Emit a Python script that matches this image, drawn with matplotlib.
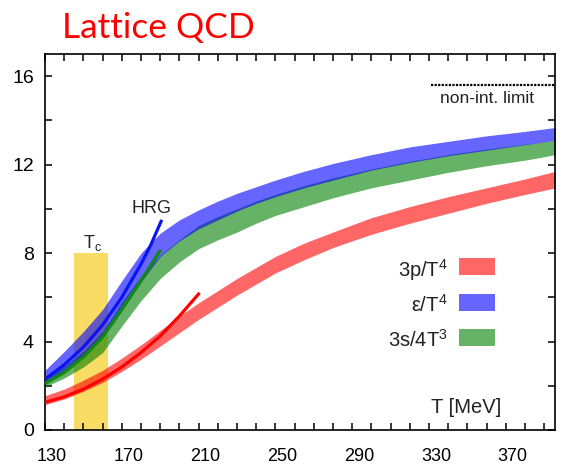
import matplotlib
matplotlib.use("Agg")
import matplotlib.pyplot as plt
from matplotlib.patches import Rectangle
from matplotlib.transforms import ScaledTranslation
from matplotlib.ticker import MultipleLocator, FixedLocator

plt.rcParams['font.family'] = ['Liberation Sans', 'DejaVu Sans']
plt.rcParams['mathtext.fontset'] = 'custom'
plt.rcParams['mathtext.rm'] = 'Liberation Sans'
plt.rcParams['mathtext.it'] = 'Liberation Sans'
plt.rcParams['mathtext.default'] = 'regular'

# ---------------- data ----------------
T_band = [130, 140, 150, 160, 170, 180, 190, 200, 210, 220, 230, 240, 250,
          265, 280, 300, 320, 340, 360, 380, 396]

p_lo = [1.15, 1.40, 1.75, 2.15, 2.65, 3.20, 3.80, 4.40, 5.00, 5.55, 6.10, 6.60, 7.10,
        7.70, 8.25, 8.85, 9.35, 9.80, 10.25, 10.65, 10.95]
p_hi = [1.55, 1.85, 2.25, 2.70, 3.25, 3.85, 4.50, 5.15, 5.75, 6.30, 6.85, 7.35, 7.85,
        8.45, 8.95, 9.60, 10.10, 10.55, 10.95, 11.35, 11.70]

e_lo = [2.15, 2.70, 3.35, 4.20, 5.40, 6.70, 7.85, 8.55, 9.10, 9.50, 9.90, 10.25, 10.55,
        10.95, 11.30, 11.75, 12.10, 12.40, 12.65, 12.90, 13.10]
e_hi = [2.70, 3.55, 4.45, 5.45, 6.75, 8.00, 8.90, 9.50, 9.95, 10.35, 10.70, 11.00, 11.30,
        11.70, 12.05, 12.45, 12.80, 13.05, 13.30, 13.50, 13.68]

s_lo = [1.95, 2.35, 2.85, 3.50, 4.70, 5.85, 6.85, 7.60, 8.20, 8.60, 8.95, 9.35, 9.70,
        10.10, 10.50, 10.95, 11.30, 11.65, 11.95, 12.20, 12.45]
s_hi = [2.40, 2.90, 3.55, 4.45, 5.80, 6.95, 7.90, 8.60, 9.25, 9.65, 10.00, 10.35, 10.65,
        11.05, 11.40, 11.80, 12.15, 12.45, 12.70, 12.92, 13.10]

hrg_T_e = [130, 140, 150, 160, 170, 180, 185, 190.8]
hrg_e = [2.30, 2.95, 3.75, 4.75, 6.00, 7.50, 8.35, 9.50]
hrg_T_s = [130, 140, 150, 160, 170, 180, 190.2]
hrg_s = [2.10, 2.60, 3.30, 4.20, 5.45, 6.75, 8.15]
hrg_T_p = [130, 140, 150, 160, 170, 180, 190, 200, 210.5]
hrg_p = [1.25, 1.50, 1.85, 2.30, 2.85, 3.50, 4.25, 5.15, 6.20]

Tc_range = [145, 163]
Tc_height = 8.0
sb_limit = 15.6
sb_T_start = 331

x_ticks = [130, 170, 210, 250, 290, 330, 370]
y_ticks = [0, 4, 8, 12, 16]
legend_labels = ['3p/T$^{4}$', 'ε/T$^{4}$', '3s/4T$^{3}$']

# ---------------- figure ----------------
fig = plt.figure(figsize=(5.64, 4.66), dpi=100)
ax = fig.add_axes([45/564, 1-430/466, 510/564, 376/466])

red = '#ff0000'
blue = '#0000ff'
green = '#008000'
alpha = 0.6

ax.fill_between(Tc_range, 0, Tc_height, color='#f8dc64', lw=0, zorder=1)
ax.fill_between(T_band, p_lo, p_hi, color=red, alpha=alpha, lw=0, zorder=2)
ax.fill_between(T_band, s_lo, s_hi, color=green, alpha=alpha, lw=0, zorder=2)
ax.fill_between(T_band, e_lo, e_hi, color=blue, alpha=alpha, lw=0, zorder=2)

ax.plot(hrg_T_p, hrg_p, color='#ff0000', lw=2.3, zorder=3, solid_capstyle='butt')
ax.plot(hrg_T_s, hrg_s, color='#108a10', lw=2.3, zorder=3, solid_capstyle='butt')
ax.plot(hrg_T_e, hrg_e, color='#0a14f0', lw=2.3, zorder=3, solid_capstyle='butt')

ax.plot([sb_T_start, 400], [sb_limit, sb_limit], color='black', lw=1.6,
        linestyle=(0, (1, 0.6)), zorder=3)

ax.set_xlim(130, 395.6)
ax.set_ylim(0, 17)

ax.xaxis.set_major_locator(FixedLocator(x_ticks))
ax.xaxis.set_minor_locator(MultipleLocator(10))
ax.yaxis.set_major_locator(FixedLocator(y_ticks))
ax.yaxis.set_minor_locator(MultipleLocator(2))
ax.set_xticklabels([str(t) for t in x_ticks])
ax.set_yticklabels([str(t) for t in y_ticks])

ax.tick_params(which='both', direction='in', top=True, right=True,
               length=5, width=1.1, color='black')
ax.tick_params(axis='x', which='major', labelsize=13, pad=13)
ax.tick_params(axis='y', which='major', labelsize=14, pad=8)
for sp in ax.spines.values():
    sp.set_linewidth(1.2)

off = ScaledTranslation(7/100, 0, fig.dpi_scale_trans)
for lab in ax.get_xticklabels():
    lab.set_transform(lab.get_transform() + off)

# texts
ax.text(0.866, 0.882, 'non-int. limit', transform=ax.transAxes,
        ha='center', va='center', fontsize=12.5, color='#222222')
ax.text(0.895, 0.061, 'T [MeV]', transform=ax.transAxes,
        ha='right', va='center', fontsize=14.5, color='#222222')
ax.text(185.6, 10.0, 'HRG', ha='center', va='center', fontsize=13, color='#222222')
ax.text(155, 8.45, 'T$_{c}$', ha='center', va='center', fontsize=13, color='#222222')

# legend (manual)
leg_cols = [red, blue, green]
leg_y = [0.434, 0.340, 0.247]
for lab, col, yc in zip(legend_labels, leg_cols, leg_y):
    ax.add_patch(Rectangle((0.812, yc - 0.0225), 0.070, 0.045, transform=ax.transAxes,
                           facecolor=col, alpha=alpha, lw=0, zorder=4))
    ax.text(0.790, yc - 0.026, lab, transform=ax.transAxes, ha='right',
            va='baseline', fontsize=14.5, color='#222222')

fig.text(62/564, 1-38/466, 'Lattice QCD', color='#ff0000', fontsize=25.5,
         family=['Lato', 'DejaVu Sans'], ha='left', va='baseline')

fig.savefig('out.png', dpi=100)
